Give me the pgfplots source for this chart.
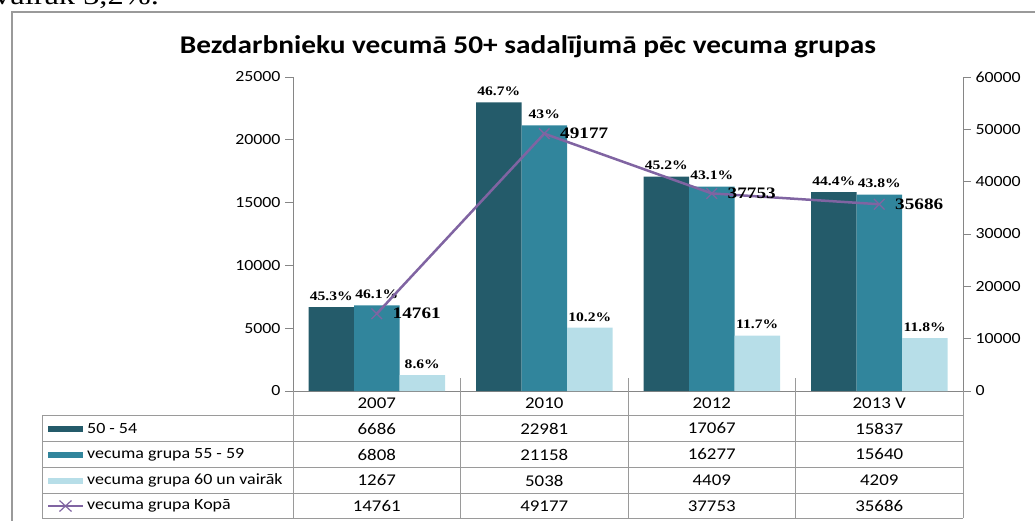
\documentclass[border=0pt]{standalone}
\usepackage{pgfplots}
\pgfplotsset{compat=1.18}
\usepackage{pgfplotstable}
\usepackage{fontspec}
\setmainfont{Carlito}
\newfontfamily\labf[FakeStretch=1.2]{Liberation Serif}
\newfontfamily\calf[FakeStretch=1.15]{Carlito}
\definecolor{cA}{HTML}{245B6A}
\definecolor{cB}{HTML}{31859C}
\definecolor{cC}{HTML}{B7DEE8}
\definecolor{cL}{HTML}{8064A2}
\definecolor{gr}{HTML}{9A9A9A}
\definecolor{ax}{HTML}{868686}

\pgfplotstableread{
x a pa b pb c pc t
0 6686 45.3 6808 46.1 1267 8.6 14761
1 22981 46.7 21158 43 5038 10.2 49177
2 17067 45.2 16277 43.1 4409 11.7 37753
3 15837 44.4 15640 43.8 4209 11.8 35686
}\data

\begin{document}
\begin{tikzpicture}[x=1pt,y=1pt]
\useasboundingbox (0,0) rectangle (1035,-520);
\clip (0,0) rectangle (1035,-520);
\coordinate (O) at (293,-391);
\node[anchor=base west, inner sep=0, font=\labf\fontsize{27}{30}\selectfont] at (-6,-4) {vairāk 3,2\%.};
\draw[gr, line width=1.2pt] (12,-12) rectangle (1060,-540);
\node[font=\calf\bfseries\fontsize{25.5}{28}\selectfont] at (528,-47) {Bezdarbnieku vecumā 50+ sadalījumā pēc vecuma grupas};

\pgfplotsset{base/.style={
  at={(O)}, anchor=south west, scale only axis,
  width=670pt, height=314pt, xmin=-0.5, xmax=3.5, ymin=0,
  axis line style={draw=ax, -, line width=0.8pt},
  tick style={draw=ax, line width=0.8pt},
  tick align=outside, major tick length=8pt,
  scaled y ticks=false,
  yticklabel style={font=\calf\fontsize{15.5}{17}\selectfont, /pgf/number format/fixed, /pgf/number format/1000 sep={}},
  /pgf/number format/assume math mode=true,
  xtick=\empty, clip=false,
}}

\begin{axis}[base, ymax=25000, ytick={0,5000,...,25000},
  axis y line*=left, axis x line*=bottom,
  ybar=0pt, bar width=45.5pt,
  point meta=explicit symbolic,
  nodes near coords={\pgfplotspointmeta\%},
  every node near coord/.append style={font=\labf\bfseries\fontsize{13}{15}\selectfont, text=black, yshift=3pt},
  yticklabel style={xshift=-1pt}]
\addplot[draw=none, fill=cA] table[x=x, y=a, meta=pa] {\data};
\addplot[draw=none, fill=cB] table[x=x, y=b, meta=pb] {\data};
\addplot[draw=none, fill=cC] table[x=x, y=c, meta=pc] {\data};
\end{axis}

\begin{axis}[base, ymax=60000, ytick={0,10000,...,60000},
  axis y line*=right, axis x line=none,
  yticklabel style={xshift=1pt},
  point meta=explicit symbolic,
  nodes near coords,
  every node near coord/.append style={font=\labf\bfseries\fontsize{16}{18}\selectfont, text=black, anchor=west, xshift=12pt}]
\addplot[cL, line width=2.5pt, mark=x, mark size=7.5pt, mark options={line width=1.3pt}] table[x=x, y=t, meta=t] {\data};
\end{axis}

% data table
\begin{scope}[draw=gr, line width=0.8pt]
\foreach \y in {415,441,467,493,518} \draw (42,-\y) -- (963,-\y);
\draw (42,-415) -- (42,-518);
\draw (293,-391) -- (293,-518);
\draw (963,-391) -- (963,-518);
\foreach \x in {460.5,628,795.5} \draw (\x,-378) -- (\x,-518);
\end{scope}
\begin{scope}[every node/.style={font=\calf\fontsize{16.4}{19}\selectfont, inner sep=0}]
\foreach \yr [count=\i from 0] in {2007,2010,2012,2013 V} \node at (376.75+167.5*\i,-403) {\yr};
\foreach \a/\b/\c/\d [count=\i from 0] in {6686/6808/1267/14761,22981/21158/5038/49177,17067/16277/4409/37753,15837/15640/4209/35686}{
  \node at (376.75+167.5*\i,-428.5) {\a};
  \node at (376.75+167.5*\i,-454.5) {\b};
  \node at (376.75+167.5*\i,-480.5) {\c};
  \node at (376.75+167.5*\i,-506) {\d};
}
\end{scope}
\begin{scope}[every node/.style={font=\calf\fontsize{15.6}{18}\selectfont, inner sep=0, anchor=west}]
\node at (87,-428.5) {50 - 54};
\node at (87,-454.5) {vecuma grupa 55 - 59};
\node at (87,-480.5) {vecuma grupa 60 un vairāk};
\node at (87,-506) {vecuma grupa Kopā};
\end{scope}
\fill[cA] (48,-426) rectangle (83,-432);
\fill[cB] (48,-452) rectangle (83,-458);
\fill[cC] (48,-478) rectangle (83,-484);
\draw[cL, line width=2.5pt] (48,-506) -- (83,-506);
\draw[cL, line width=1.2pt] (59.5,-500.5) -- (71.5,-511.5) (59.5,-511.5) -- (71.5,-500.5);
\end{tikzpicture}
\end{document}
